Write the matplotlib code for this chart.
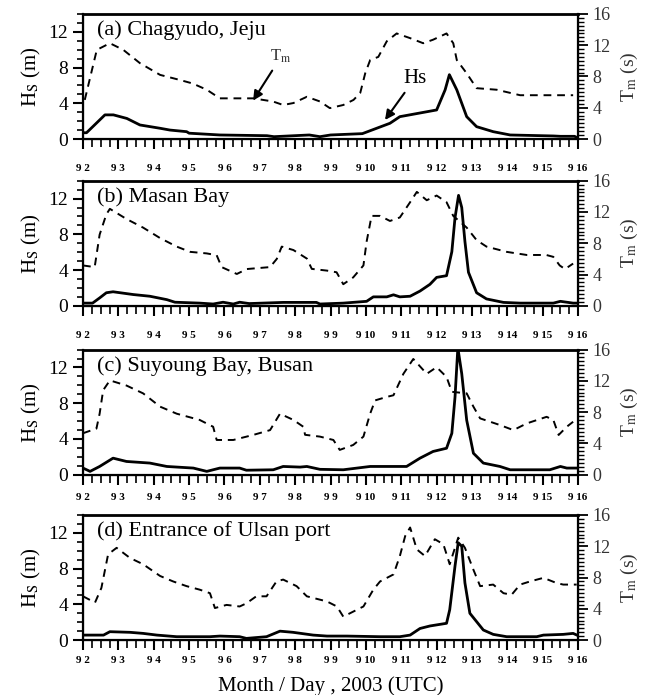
import numpy as np
import matplotlib.pyplot as plt
from matplotlib.ticker import MultipleLocator

plt.rcParams['font.family'] = ['Liberation Serif', 'DejaVu Serif']
plt.rcParams['mathtext.fontset'] = 'stix'

# time axis: days after 9/2 00 UTC
day_labels = ['9 2', '9 3', '9 4', '9 5', '9 6', '9 7', '9 8', '9 9',
              '9 10', '9 11', '9 12', '9 13', '9 14', '9 15', '9 16']

titles = ['(a) Chagyudo, Jeju', '(b) Masan Bay', '(c) Suyoung Bay, Busan',
          '(d) Entrance of Ulsan port']

# (a) Chagyudo, Jeju
a_hs_t = [0.0, 0.1, 0.62, 0.86, 1.24, 1.61, 2.18, 2.46, 2.93, 3.0, 3.87, 5.2, 5.4,
          6.4, 6.7, 7.0, 7.9, 8.68, 8.96, 10.0, 10.24, 10.36, 10.57, 10.85, 11.13,
          11.6, 12.08, 13.3, 13.5, 13.9, 14.0]
a_hs = [0.7, 0.7, 2.7, 2.7, 2.3, 1.57, 1.2, 1.0, 0.82, 0.65, 0.45, 0.37, 0.26,
        0.45, 0.26, 0.45, 0.6, 1.76, 2.5, 3.25, 5.5, 7.2, 5.5, 2.5, 1.38,
        0.82, 0.45, 0.34, 0.3, 0.3, 0.1]
a_tm_t = [0.05, 0.39, 0.76, 1.14, 1.61, 2.18, 2.74, 3.1, 3.5, 3.87, 4.25, 4.81, 5.37,
          5.66, 5.95, 6.33, 6.7, 6.98, 7.36, 7.65, 7.84, 7.98, 8.12, 8.35, 8.59,
          8.87, 9.25, 9.62, 9.9, 10.28, 10.47, 10.57, 10.85, 11.13, 11.7, 12.36,
          12.8, 13.3, 13.86]
a_tm = [5.0, 11.4, 12.25, 11.4, 9.7, 8.2, 7.55, 7.1, 6.3, 5.2, 5.2, 5.2, 4.8,
        4.35, 4.6, 5.4, 4.8, 3.95, 4.35, 5.0, 5.9, 8.4, 10.1, 10.5, 12.5,
        13.5, 12.9, 12.25, 12.7, 13.5, 12.25, 10.1, 8.4, 6.5, 6.3, 5.6,
        5.6, 5.6, 5.6]

# (b) Masan Bay
b_hs_t = [0.0, 0.27, 0.47, 0.66, 0.85, 1.42, 1.89, 2.37, 2.6, 3.3, 3.68, 3.96, 4.25,
          4.43, 4.7, 5.66, 6.6, 6.7, 7.36, 8.02, 8.21, 8.59, 8.78, 8.96, 9.25, 9.53,
          9.81, 10.0, 10.28, 10.43, 10.52, 10.62, 10.71, 10.8, 10.9, 11.13, 11.41,
          11.89, 12.36, 13.3, 13.5, 13.86, 14.0]
b_hs = [0.3, 0.3, 0.88, 1.46, 1.57, 1.26, 1.07, 0.69, 0.4, 0.3, 0.2, 0.4, 0.2,
        0.4, 0.25, 0.38, 0.38, 0.2, 0.3, 0.5, 1.0, 1.0, 1.23, 1.0, 1.07, 1.65,
        2.4, 3.18, 3.37, 6.05, 9.87, 12.36, 11.0, 7.2, 3.75, 1.46, 0.77,
        0.38, 0.3, 0.3, 0.5, 0.3, 0.3]
b_tm_t = [0.0, 0.33, 0.47, 0.66, 0.76, 1.23, 1.7, 2.18, 2.65, 3.03, 3.5, 3.78, 3.92,
          4.35, 4.63, 5.29, 5.48, 5.62, 5.95, 6.33, 6.47, 6.9, 7.17, 7.36, 7.64,
          7.93, 8.02, 8.16, 8.4, 8.68, 8.96, 9.25, 9.44, 9.72, 10.0, 10.28, 10.47,
          10.85, 11.13, 11.41, 11.98, 12.55, 13.1, 13.3, 13.48, 13.63, 13.86]
b_tm = [5.16, 4.95, 9.1, 11.7, 12.4, 11.1, 10.0, 8.66, 7.57, 6.9, 6.7, 6.47, 4.95,
        4.07, 4.7, 4.95, 6.0, 7.57, 7.13, 6.04, 4.72, 4.5, 4.29, 2.76, 3.63,
        5.16, 8.2, 11.5, 11.5, 10.85, 11.3, 13.25, 14.57, 13.5, 14.1, 13.25, 11.5,
        10.0, 8.4, 7.57, 6.9, 6.5, 6.5, 6.26, 5.16, 4.7, 5.4]

# (c) Suyoung Bay, Busan
c_hs_t = [0.0, 0.2, 0.47, 0.85, 1.23, 1.89, 2.37, 3.12, 3.5, 3.87, 4.43, 4.62, 5.38,
          5.66, 6.14, 6.33, 6.7, 7.36, 8.12, 9.15, 9.53, 9.9, 10.28, 10.43, 10.52,
          10.6, 10.71, 10.85, 11.04, 11.32, 11.79, 12.08, 13.2, 13.5, 13.68, 14.0]
c_hs = [0.74, 0.37, 0.92, 1.85, 1.48, 1.3, 0.92, 0.74, 0.37, 0.74, 0.74, 0.5, 0.55,
        0.92, 0.85, 0.92, 0.6, 0.55, 0.92, 0.92, 1.85, 2.6, 2.96, 4.63, 8.7,
        14.2, 11.3, 6.1, 2.4, 1.3, 0.92, 0.55, 0.55, 0.92, 0.74, 0.74]
c_tm_t = [0.0, 0.38, 0.47, 0.57, 0.76, 1.23, 1.7, 2.18, 2.65, 3.3, 3.68, 3.78, 4.25,
          4.81, 5.29, 5.57, 5.95, 6.23, 6.28, 6.7, 7.08, 7.26, 7.64, 7.93, 8.12,
          8.26, 8.59, 8.78, 9.06, 9.34, 9.72, 10.0, 10.28, 10.43, 10.85, 11.04,
          11.23, 11.79, 12.17, 12.55, 13.11, 13.3, 13.45, 13.68, 13.86]
c_tm = [5.3, 5.9, 7.8, 10.8, 12.06, 11.4, 10.4, 8.7, 7.8, 7.0, 6.13, 4.44, 4.44,
        5.08, 5.7, 7.8, 7.0, 6.13, 5.1, 4.87, 4.44, 3.17, 3.8, 4.87, 7.8,
        9.5, 9.95, 10.16, 12.9, 14.8, 12.9, 13.75, 12.5, 10.6, 10.4, 8.7,
        7.2, 6.35, 5.7, 6.56, 7.4, 7.0, 5.08, 6.13, 6.77]

# (d) Entrance of Ulsan port
d_hs_t = [0.0, 0.58, 0.76, 1.33, 1.7, 2.09, 2.65, 3.59, 3.87, 4.43, 4.62, 5.19, 5.57,
          5.94, 6.51, 6.9, 7.46, 8.4, 8.96, 9.25, 9.53, 9.81, 10.28, 10.37, 10.52,
          10.61, 10.71, 10.8, 10.94, 11.32, 11.6, 11.98, 12.83, 13.02, 13.58, 13.86,
          14.0]
d_hs = [0.56, 0.56, 0.94, 0.87, 0.75, 0.56, 0.38, 0.38, 0.45, 0.38, 0.19, 0.38, 1.0,
        0.87, 0.56, 0.45, 0.45, 0.38, 0.38, 0.56, 1.3, 1.58, 1.88, 3.4, 8.3,
        10.9, 10.5, 6.4, 3.0, 1.13, 0.64, 0.38, 0.38, 0.56, 0.64, 0.75,
        0.5]
d_tm_t = [0.0, 0.34, 0.52, 0.71, 0.95, 1.33, 1.7, 2.18, 2.55, 2.93, 3.3, 3.59, 3.73,
          4.06, 4.43, 4.62, 4.9, 5.19, 5.47, 5.66, 6.04, 6.33, 6.9, 7.18, 7.36,
          7.93, 8.21, 8.4, 8.78, 8.96, 9.11, 9.25, 9.44, 9.67, 9.95, 10.19, 10.37,
          10.61, 10.8, 11.04, 11.23, 11.6, 11.89, 12.12, 12.36, 12.64, 13.02,
          13.39, 13.58, 13.96]
d_tm = [5.6, 4.8, 6.67, 10.97, 11.8, 10.5, 9.7, 8.2, 7.5, 6.9, 6.45, 6.0, 4.1,
        4.5, 4.3, 4.7, 5.6, 5.6, 7.5, 7.74, 6.9, 5.6, 4.94, 4.3, 3.0,
        4.3, 6.45, 7.5, 8.4, 10.75, 13.3, 14.4, 11.6, 10.75, 12.9, 12.26, 9.7,
        13.1, 11.8, 9.0, 6.9, 7.1, 6.0, 5.8, 7.1, 7.5, 7.96,
        7.3, 7.1, 7.1]

hs_t = [a_hs_t, b_hs_t, c_hs_t, d_hs_t]
hs = [a_hs, b_hs, c_hs, d_hs]
tm_t = [a_tm_t, b_tm_t, c_tm_t, d_tm_t]
tm = [a_tm, b_tm, c_tm, d_tm]

fig = plt.figure(figsize=(6.51, 6.95), dpi=100)
left, width = 0.1275, 0.7605
bottoms = [0.800, 0.560, 0.317, 0.079]
height = 0.180
xpads = [11, 11.5, 6.5, 4.5]

for i in range(4):
    ax = fig.add_axes([left, bottoms[i], width, height])
    ax2 = ax.twinx()
    ax.plot(hs_t[i], hs[i], color='black', lw=2.0)
    ax2.plot(tm_t[i], tm[i], color='black', lw=1.4, ls=(0, (4, 3)))

    ax.set_xlim(0, 14)
    ax.set_ylim(0, 14)
    ax2.set_ylim(0, 16)

    ax.set_xticks(np.arange(len(day_labels)))
    ax.set_xticklabels(day_labels, fontsize=8, fontweight='bold')
    ax.xaxis.set_minor_locator(MultipleLocator(0.25))
    ax.set_yticks([0, 4, 8, 12])
    ax.yaxis.set_minor_locator(MultipleLocator(1))
    ax2.set_yticks([0, 4, 8, 12, 16])
    ax2.yaxis.set_minor_locator(MultipleLocator(0.5))

    ax.tick_params(axis='y', which='major', labelsize=14, length=7, width=1.5, direction='out')
    ax.tick_params(axis='y', which='minor', length=4, width=1.2, direction='out')
    ax.tick_params(axis='x', which='major', length=7, width=1.5, direction='out', pad=xpads[i])
    ax.tick_params(axis='x', which='minor', length=6, width=1.2, direction='out')
    ax2.tick_params(axis='y', which='major', labelsize=13, length=7, width=1.3,
                    direction='out', labelcolor='#333333')
    ax2.tick_params(axis='y', which='minor', length=4, width=1.0, direction='out')

    for sp in ['left', 'bottom', 'right']:
        ax2.spines[sp].set_linewidth(1.6)
    ax2.spines['top'].set_linewidth(2.0)

    ax.set_ylabel(r'H$_\mathrm{S}$ (m)', fontsize=15, labelpad=4)
    ax2.set_ylabel(r'T$_\mathrm{m}$ (s)', fontsize=14, labelpad=6, color='#333333')

    ax.text(0.028, 0.87, titles[i], transform=ax.transAxes, fontsize=16,
            va='center', ha='left')

    if i == 0:
        ax.annotate(r'T$_\mathrm{m}$', xy=(4.81, 4.3), xytext=(5.6, 9.2), fontsize=12,
                    ha='center', va='center', color='#333333',
                    arrowprops=dict(arrowstyle='-|>', color='black', lw=1.5,
                                    mutation_scale=14, shrinkA=2, shrinkB=0))
        ax.annotate('Hs', xy=(8.54, 2.13), xytext=(9.39, 6.8), fontsize=15,
                    ha='center', va='center',
                    arrowprops=dict(arrowstyle='-|>', color='black', lw=1.5,
                                    mutation_scale=14, shrinkA=2, shrinkB=0))
    if i == 3:
        ax.set_xlabel('Month / Day , 2003 (UTC)', fontsize=15, labelpad=8)

fig.savefig('out.png', dpi=100)
